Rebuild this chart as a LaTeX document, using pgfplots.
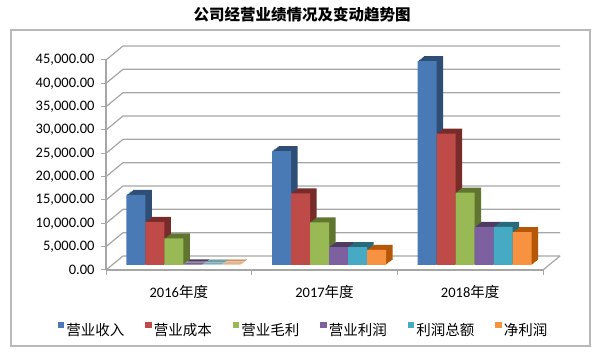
\documentclass[border=0pt]{standalone}
\usepackage{pgfplots}
\pgfplotsset{compat=1.18}
\usepackage{pgfplotstable}
\usepackage{fontspec}
\setmainfont{Carlito}
\newfontfamily\cjk{Noto Sans CJK SC}
\definecolor{gridc}{HTML}{A6A6A6}
\definecolor{c1}{HTML}{4A7AB5}
\definecolor{c2}{HTML}{BE4B48}
\definecolor{c3}{HTML}{98B954}
\definecolor{c4}{HTML}{7D60A0}
\definecolor{c5}{HTML}{46AAC5}
\definecolor{c6}{HTML}{F69240}
\definecolor{d1}{HTML}{2E4E76}
\definecolor{d2}{HTML}{772C2A}
\definecolor{d3}{HTML}{5F7530}
\definecolor{d4}{HTML}{4D3B62}
\definecolor{d5}{HTML}{276A7C}
\definecolor{d6}{HTML}{B65708}
\pgfplotstableread{
cat rev cost gross op total net
0 15000 9250 5700 150 100 80
1 24400 15350 9150 3850 3850 3250
2 43700 28150 15500 8150 8150 7050
}\data
\pgfplotsset{
  fb/.style={legend image code/.code={\fill[##1] (0pt,-3.25pt) rectangle (6.5pt,3.25pt);}},
}
% #1 column, #2 bar shift, #3 dark colour, #4 front colour
\newcommand{\depthbar}[4]{%
  \addplot[ybar, bar width=19pt, bar shift=#2, draw=none, fill=#3, xshift=11pt, yshift=10pt, forget plot] table[x=cat,y=#1]{\data};
  \addplot[ybar, bar width=19pt, bar shift=#2, draw=none, fill=#3, xshift=9.92pt, yshift=9.17pt, forget plot] table[x=cat,y=#1]{\data};
  \addplot[ybar, bar width=19pt, bar shift=#2, draw=none, fill=#3, xshift=8.83pt, yshift=8.33pt, forget plot] table[x=cat,y=#1]{\data};
  \addplot[ybar, bar width=19pt, bar shift=#2, draw=none, fill=#3, xshift=7.75pt, yshift=7.5pt, forget plot] table[x=cat,y=#1]{\data};
  \addplot[ybar, bar width=19pt, bar shift=#2, draw=none, fill=#3, xshift=6.67pt, yshift=6.67pt, forget plot] table[x=cat,y=#1]{\data};
  \addplot[ybar, bar width=19pt, bar shift=#2, draw=none, fill=#3, xshift=5.58pt, yshift=5.83pt, forget plot] table[x=cat,y=#1]{\data};
  \addplot[ybar, bar width=19pt, bar shift=#2, draw=none, fill=#4, xshift=4.5pt, yshift=5pt, fb] table[x=cat,y=#1]{\data};
}
\begin{document}
\begin{tikzpicture}[x=1pt,y=1pt]
\path[use as bounding box] (0,0) rectangle (600,352);
\draw[gridc!80, line width=1.2pt] (11,6) rectangle (590,322);
\node[font=\cjk\bfseries\fontsize{15.5}{17}\selectfont] at (302,337) {公司经营业绩情况及变动趋势图};
\begin{axis}[
  at={(106pt,82pt)}, anchor=south west,
  scale only axis, width=437pt, height=210pt,
  xmin=-0.5, xmax=2.5, ymin=0, ymax=45000,
  clip=false,
  axis lines*=left,
  axis line style={gridc, line width=1.2pt},
  tick align=outside,
  xtick={0,1,2},
  xticklabels={{2016{\cjk 年度}},{2017{\cjk 年度}},{2018{\cjk 年度}}},
  minor xtick={-0.5,0.5,1.5,2.5},
  major x tick style={draw=none},
  minor x tick style={gridc, line width=1pt},
  minor tick length=5pt,
  major tick length=5pt,
  ytick={0,5000,...,45000},
  y tick style={gridc, line width=1pt},
  scaled y ticks=false,
  /pgf/number format/fixed,
  /pgf/number format/fixed zerofill,
  /pgf/number format/precision=2,
  /pgf/number format/1000 sep={,},
  /pgf/number format/assume math mode=true,
  tick label style={font=\fontsize{14.5}{16}\selectfont},
  xticklabel style={yshift=-7pt},
  yticklabel style={xshift=-3pt},
  legend style={at={(axis cs:0.856,-12857)}, anchor=center, draw=none, fill=none,
    legend columns=6, font=\cjk\fontsize{14.5}{16}\selectfont,
    /tikz/every even column/.append style={column sep=19pt}},
]
\pgfplotsinvokeforeach{0,5000,10000,15000,20000,25000,30000,35000,40000,45000}{
  \draw[gridc, line width=1.2pt] (axis cs:-0.5,#1) -- ([xshift=17pt,yshift=14pt]axis cs:-0.5,#1) -- ([xshift=17pt,yshift=14pt]axis cs:2.5,#1);
}
\draw[gridc, line width=1.2pt] (axis cs:2.5,0) -- ([xshift=17pt,yshift=14pt]axis cs:2.5,0);
\depthbar{rev}{-47.5pt}{d1}{c1}
\addlegendentry{营业收入}
\depthbar{cost}{-28.5pt}{d2}{c2}
\addlegendentry{营业成本}
\depthbar{gross}{-9.5pt}{d3}{c3}
\addlegendentry{营业毛利}
\depthbar{op}{9.5pt}{d4}{c4}
\addlegendentry{营业利润}
\depthbar{total}{28.5pt}{d5}{c5}
\addlegendentry{利润总额}
\depthbar{net}{47.5pt}{d6}{c6}
\addlegendentry{净利润}
\end{axis}
\end{tikzpicture}
\end{document}
